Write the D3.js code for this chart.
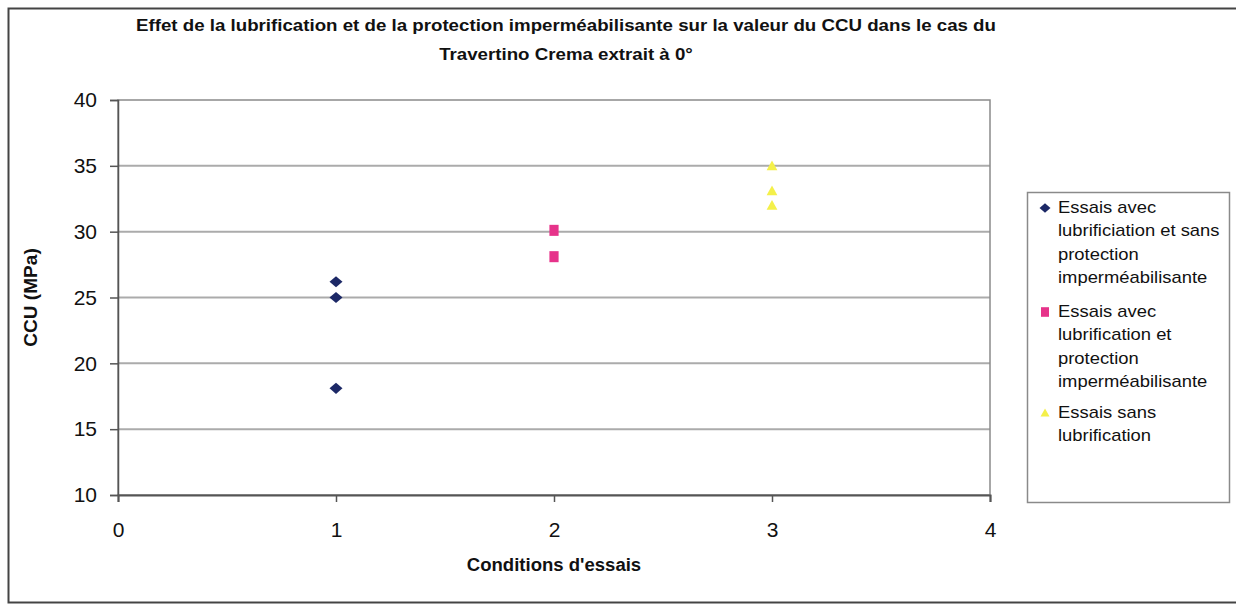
<!DOCTYPE html>
<html>
<head>
<meta charset="utf-8">
<script src="https://cdn.jsdelivr.net/npm/d3@7"></script>
<style>
  body { margin: 0; background: #fff; }
  svg { display: block; font-family: Arial, "Liberation Sans", sans-serif; }
</style>
</head>
<body>
<svg id="chart" width="1236" height="604"></svg>
<script>
// Chart data
const titleLines = [
  "Effet de la lubrification et de la protection imperméabilisante sur la valeur du CCU dans le cas du",
  "Travertino Crema extrait à 0°"
];
const xTicks = [0, 1, 2, 3, 4];
const yTicks = [10, 15, 20, 25, 30, 35, 40];

const seriesNames = [
  ["Essais avec", "lubrificiation et sans", "protection", "imperméabilisante"],
  ["Essais avec", "lubrification et", "protection", "imperméabilisante"],
  ["Essais sans", "lubrification"]
];
const seriesX = [1, 2, 3];
const sansProtection = [26.2, 25.0, 18.1];
const avecProtection = [30.1, 28.1];
const sansLubrification = [35.0, 33.1, 32.0];
const seriesValues = [sansProtection, avecProtection, sansLubrification];
const seriesColors = ["#1c2866", "#e6338a", "#f4f04a"];

// Marker shapes: size is the half-width in pixels
const wideDiamond = {
  draw(ctx, r) {
    const h = r * 0.85;
    ctx.moveTo(0, -h); ctx.lineTo(r, 0); ctx.lineTo(0, h); ctx.lineTo(-r, 0); ctx.closePath();
  }
};
const tallSquare = {
  draw(ctx, r) {
    const h = r * 1.2;
    ctx.rect(-r, -h, 2 * r, 2 * h);
  }
};
const triangle = {
  draw(ctx, r) {
    ctx.moveTo(0, -r); ctx.lineTo(r, r * 0.8); ctx.lineTo(-r, r * 0.8); ctx.closePath();
  }
};
const seriesSymbols = [wideDiamond, tallSquare, triangle];
const markerRadius = [6.5, 4.6, 5.4];
const legendRadius = [5.5, 4, 4.5];

const svg = d3.select("#chart");

// Outer chart frame
svg.append("rect")
  .attr("x", 8.5).attr("y", 8.5)
  .attr("width", 1240).attr("height", 594)
  .attr("fill", "none").attr("stroke", "#444").attr("stroke-width", 2);

const plot = { left: 118, top: 100, right: 990, bottom: 495 };

const x = d3.scaleLinear().domain([0, 4]).range([plot.left, plot.right]);
const y = d3.scaleLinear().domain([10, 40]).range([plot.bottom, plot.top]);

// Horizontal gridlines
svg.append("g")
  .selectAll("line")
  .data(yTicks.filter(d => d > 10 && d < 40))
  .join("line")
  .attr("x1", plot.left).attr("x2", plot.right)
  .attr("y1", d => y(d)).attr("y2", d => y(d))
  .attr("stroke", "#ababab").attr("stroke-width", 2);

// Plot area border
svg.append("rect")
  .attr("x", plot.left).attr("y", plot.top)
  .attr("width", plot.right - plot.left).attr("height", plot.bottom - plot.top)
  .attr("fill", "none").attr("stroke", "#8a8a8a").attr("stroke-width", 1.5);

// Y axis
const yAxis = svg.append("g")
  .attr("transform", `translate(${plot.left},0)`)
  .call(d3.axisLeft(y).tickValues(yTicks).tickFormat(d3.format("d")).tickSize(8).tickPadding(13));
yAxis.select(".domain").attr("stroke", "#555").attr("stroke-width", 1.5);
yAxis.selectAll(".tick line").attr("stroke", "#555").attr("stroke-width", 1.5);
yAxis.selectAll(".tick text")
  .attr("font-size", 21).attr("fill", "#111")
  .attr("font-family", "Arial, 'Liberation Sans', sans-serif");

// X axis
const xAxis = svg.append("g")
  .attr("transform", `translate(0,${plot.bottom})`)
  .call(d3.axisBottom(x).tickValues(xTicks).tickFormat(d3.format("d")).tickSize(7).tickPadding(20));
xAxis.select(".domain").attr("stroke", "#555").attr("stroke-width", 2);
xAxis.selectAll(".tick line").attr("stroke", "#555").attr("stroke-width", 1.5);
xAxis.selectAll(".tick text")
  .attr("font-size", 21).attr("fill", "#111")
  .attr("font-family", "Arial, 'Liberation Sans', sans-serif");

// Data points
seriesValues.forEach((vals, i) => {
  svg.append("g")
    .selectAll("path")
    .data(vals)
    .join("path")
    .attr("transform", d => `translate(${x(seriesX[i])},${y(d)})`)
    .attr("d", d3.symbol().type(seriesSymbols[i]).size(markerRadius[i]))
    .attr("fill", seriesColors[i]);
});

// Title
svg.append("g")
  .selectAll("text")
  .data(titleLines)
  .join("text")
  .attr("transform", (d, i) => `translate(566,${31 + i * 29}) scale(1.1,1)`)
  .attr("text-anchor", "middle")
  .attr("font-size", 17).attr("font-weight", "bold").attr("fill", "#111")
  .text(d => d);

// Axis titles
svg.append("text")
  .attr("transform", `translate(37,${(plot.top + plot.bottom) / 2}) rotate(-90) scale(1.06,1)`)
  .attr("text-anchor", "middle")
  .attr("font-size", 18).attr("font-weight", "bold").attr("fill", "#111")
  .text("CCU (MPa)");

svg.append("text")
  .attr("transform", `translate(${x(2)},571) scale(1.03,1)`)
  .attr("text-anchor", "middle")
  .attr("font-size", 18).attr("font-weight", "bold").attr("fill", "#111")
  .text("Conditions d'essais");

// Legend
const legend = svg.append("g");
legend.append("rect")
  .attr("x", 1027.5).attr("y", 192.5)
  .attr("width", 202).attr("height", 310)
  .attr("fill", "#fff").attr("stroke", "#8a8a8a").attr("stroke-width", 1.5);

const lineH = 23.3;
const entryTop = [213, 317, 418];
seriesNames.forEach((lines, i) => {
  legend.append("path")
    .attr("transform", `translate(1045,${entryTop[i] - 5})`)
    .attr("d", d3.symbol().type(seriesSymbols[i]).size(legendRadius[i]))
    .attr("fill", seriesColors[i]);
  legend.append("g")
    .selectAll("text")
    .data(lines)
    .join("text")
    .attr("transform", (d, j) => `translate(1058,${entryTop[i] + j * lineH}) scale(1.15,1)`)
    .attr("font-size", 16).attr("fill", "#111")
    .text(d => d);
});
</script>
</body>
</html>
